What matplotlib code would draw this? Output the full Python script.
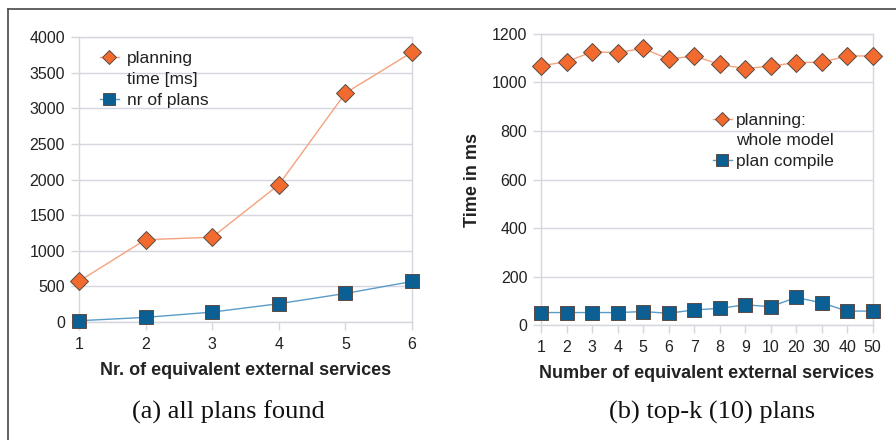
#!/usr/bin/env python3
"""Planning time vs. number of equivalent external services (two panels)."""
import matplotlib

matplotlib.use("Agg")
import matplotlib.pyplot as plt
from matplotlib.lines import Line2D

# panel (a): all plans found
services_a = ["1", "2", "3", "4", "5", "6"]
planning_time_a = [572, 1156, 1190, 1927, 3214, 3787]
nr_of_plans_a = [19, 66, 140, 258, 402, 570]

# panel (b): top-k (10) plans
services_b = ["1", "2", "3", "4", "5", "6", "7", "8", "9", "10", "20", "30", "40", "50"]
planning_whole_b = [1069, 1085, 1126, 1123, 1140, 1096, 1109, 1074, 1057, 1067, 1082, 1083, 1109, 1109]
plan_compile_b = [52, 52, 52, 52, 56, 49, 63, 69, 84, 76, 114, 92, 58, 58]

ORANGE = "#f26a2e"
ORANGE_LINE = "#f5a27e"
BLUE = "#0c5f93"
BLUE_LINE = "#5a9cc8"
EDGE = "#5a4a44"
GRID = "#d6d6de"
TEXT = "#222222"

plt.rcParams["font.family"] = ["Liberation Sans", "DejaVu Sans"]


def style_axes(ax, n):
    ax.set_xlim(0, n - 1)
    ax.grid(axis="y", color=GRID, linewidth=1.0)
    ax.set_axisbelow(True)
    for sp in ax.spines.values():
        sp.set_color(GRID)
        sp.set_linewidth(1.0)
    ax.tick_params(axis="both", colors=GRID, labelcolor=TEXT, labelsize=11.5,
                   length=6, width=1.0, direction="out")
    ax.tick_params(axis="x", pad=5)
    ax.tick_params(axis="y", pad=4)


def draw(ax, x, y, marker, color, line, label, size):
    return ax.plot(x, y, color=line, linewidth=1.0, marker=marker, markersize=size,
                   markerfacecolor=color, markeredgecolor=EDGE, markeredgewidth=0.7,
                   label=label, clip_on=False, zorder=3)[0]


def legend(ax, lines, labels, anchor, pad):
    # second line of a two-line label goes in its own row with an empty handle,
    # so the marker sits next to the first line as in the original
    blank = Line2D([], [], linestyle="none")
    handles = [lines[0], blank, lines[1]]
    leg = ax.legend(handles, labels, loc="upper left", bbox_to_anchor=anchor,
                    frameon=False, fontsize=12.5, handlelength=1.1,
                    handletextpad=pad, labelspacing=0.32, borderpad=0,
                    borderaxespad=0, markerscale=0.8)
    for t in leg.get_texts():
        t.set_color(TEXT)
    return leg


fig = plt.figure(figsize=(8.96, 4.4), dpi=100)

# (a)
ax1 = fig.add_axes([0.088, 0.268, 0.372, 0.648])
xa = list(range(len(services_a)))
l1 = draw(ax1, xa, planning_time_a, "D", ORANGE, ORANGE_LINE, "planning", 9)
l2 = draw(ax1, xa, nr_of_plans_a, "s", BLUE, BLUE_LINE, "nr of plans", 10)
style_axes(ax1, len(services_a))
ax1.set_ylim(0, 4000)
ax1.set_yticks(range(0, 4001, 500))
ax1.set_xticks(xa)
ax1.set_xticklabels(services_a)
ax1.set_xlabel("Nr. of equivalent external services", fontsize=13,
               fontweight="bold", color=TEXT, labelpad=7)
legend(ax1, [l1, l2], ["planning", "time [ms]", "nr of plans"], (0.063, 0.95), 0.45)

# (b)
ax2 = fig.add_axes([0.604, 0.261, 0.370, 0.662])
xb = list(range(len(services_b)))
l3 = draw(ax2, xb, planning_whole_b, "D", ORANGE, ORANGE_LINE, "planning:", 9)
l4 = draw(ax2, xb, plan_compile_b, "s", BLUE, BLUE_LINE, "plan compile", 10)
style_axes(ax2, len(services_b))
ax2.set_ylim(0, 1200)
ax2.set_yticks(range(0, 1201, 200))
ax2.set_xticks(xb)
ax2.set_xticklabels(services_b)
ax2.set_xlabel("Number of equivalent external services", fontsize=13,
               fontweight="bold", color=TEXT, labelpad=7)
ax2.set_ylabel("Time in ms", fontsize=13, fontweight="bold", color=TEXT, labelpad=8)
legend(ax2, [l3, l4], ["planning:", "whole model", "plan compile"], (0.518, 0.73), 0.25)

# captions
serif = ["Liberation Serif", "DejaVu Serif"]
fig.text(0.255, 0.062, "(a) all plans found", ha="center", va="center",
         fontsize=19, family=serif, color="#111111")
fig.text(0.795, 0.062, "(b) top-k (10) plans", ha="center", va="center",
         fontsize=19, family=serif, color="#111111")

# page frame (top and left rules)
fig.add_artist(Line2D([8 / 896, 1.0], [1 - 9 / 440, 1 - 9 / 440],
                      transform=fig.transFigure, color="#555555", linewidth=1.3))
fig.add_artist(Line2D([8 / 896, 8 / 896], [0.0, 1 - 9 / 440],
                      transform=fig.transFigure, color="#555555", linewidth=1.3))

fig.savefig("out.png", dpi=100)
